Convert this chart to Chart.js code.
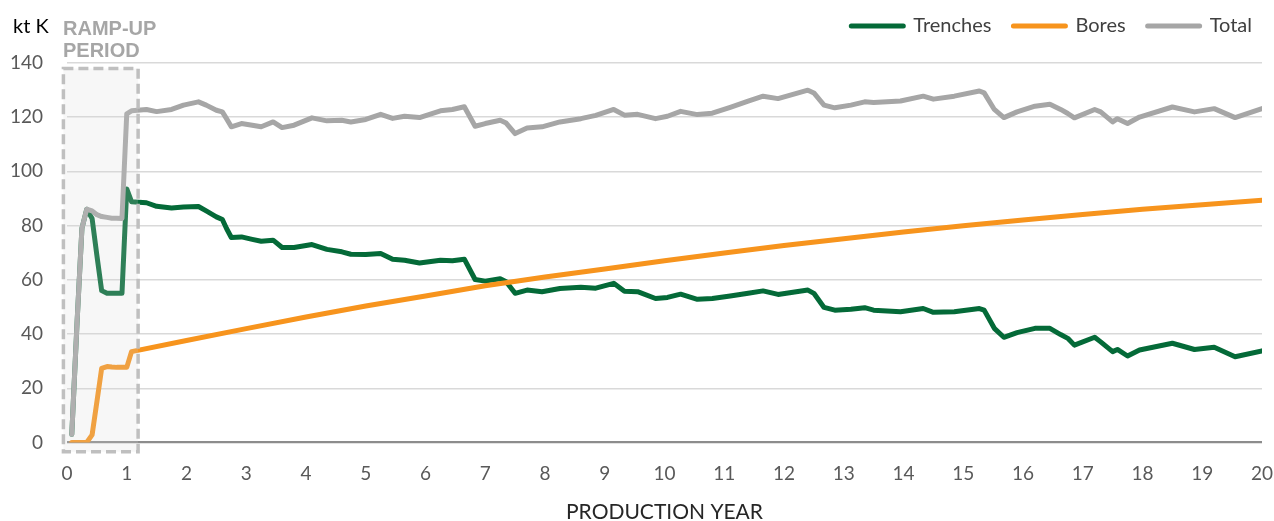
<!DOCTYPE html>
<html>
<head>
<meta charset="utf-8">
<script src="https://cdn.jsdelivr.net/npm/chart.js@4.4.1/dist/chart.umd.min.js"></script>
<style>
  html, body { margin: 0; padding: 0; background: #ffffff; }
  #wrap { width: 1274px; height: 521px; position: relative; }
</style>
</head>
<body>
<div id="wrap"><canvas id="production-chart"></canvas></div>
<script>
// production years (monthly through ramp-up, then at the curve's kinks)
var years = [
  0.08, 0.17, 0.25, 0.33, 0.42, 0.5, 0.58, 0.67, 0.75, 0.83, 0.92, 1.0, 1.08,
  1.33, 1.5, 1.75, 1.95, 2.2, 2.33, 2.5, 2.6, 2.67, 2.75, 2.92, 3.1, 3.25, 3.45, 3.6, 3.8,
  4.1, 4.35, 4.6, 4.75, 5.0, 5.25, 5.45, 5.65, 5.9, 6.25, 6.45, 6.65, 6.83, 7.0, 7.25, 7.35, 7.5, 7.7, 7.95,
  8.25, 8.6, 8.85, 9.15, 9.33, 9.55, 9.85, 10.05, 10.27, 10.55, 10.8, 11.1, 11.4, 11.65, 11.9,
  12.4, 12.5, 12.67, 12.85, 13.12, 13.35, 13.5, 13.95, 14.33, 14.5, 14.85, 15.27, 15.35, 15.52, 15.68, 15.9,
  16.2, 16.45, 16.63, 16.75, 16.86, 17.2, 17.3, 17.5, 17.58, 17.75, 17.95, 18.5, 18.87, 19.2, 19.55, 20.0
];

var trenches = [
  3, 45, 79, 86, 82.6, 69, 56, 55, 55, 55, 55, 93.5, 88.8,
  88.4, 87.1, 86.5, 86.8, 87.0, 85.4, 83.2, 82.2, 78.9, 75.6, 75.8, 74.9, 74.2, 74.6, 71.9, 71.9,
  73.0, 71.2, 70.3, 69.4, 69.3, 69.7, 67.6, 67.2, 66.2, 67.2, 67.0, 67.6, 60.1, 59.5, 60.4, 59.3, 55.0, 56.2, 55.6,
  56.8, 57.2, 56.9, 58.7, 55.8, 55.6, 53.1, 53.5, 54.7, 52.8, 53.1, 54.0, 55.0, 55.9, 54.6,
  56.2, 55.0, 49.8, 48.8, 49.1, 49.7, 48.8, 48.2, 49.4, 48.0, 48.2, 49.4, 48.8, 42.1, 38.8, 40.5,
  42.1, 42.1, 39.8, 38.4, 35.9, 38.8, 37.1, 33.5, 34.3, 31.9, 34.1, 36.6, 34.3, 35.1, 31.6, 33.8
];

var total = [
  3, 45, 79, 86, 85.4, 84, 83.3, 83, 82.7, 82.7, 82.6, 121.2, 122.3,
  122.8, 122.0, 122.8, 124.4, 125.6, 124.4, 122.5, 121.9, 119.4, 116.4, 117.6, 117.0, 116.4, 118.2, 116.1, 117.0,
  119.7, 118.6, 118.8, 118.2, 119.1, 121.0, 119.5, 120.3, 119.8, 122.3, 122.8, 123.8, 116.6, 117.6, 118.8, 117.8, 113.9, 116.0, 116.4,
  118.2, 119.4, 120.6, 122.8, 120.7, 121.0, 119.4, 120.3, 122.1, 120.9, 121.4, 123.6, 125.9, 127.7, 126.8,
  129.9, 128.9, 124.4, 123.4, 124.4, 125.6, 125.4, 125.9, 127.7, 126.6, 127.7, 129.6, 128.9, 122.8, 119.8, 121.9,
  124.0, 124.7, 122.8, 121.3, 119.7, 122.8, 121.9, 118.2, 119.4, 117.6, 120.0, 123.7, 121.9, 123.1, 119.8, 123.1
];

var boresYears = [0.08, 0.17, 0.25, 0.33, 0.42, 0.5, 0.58, 0.67, 0.75, 0.83, 0.92, 1.0, 1.08,
  2, 3, 4, 5, 6, 7, 8, 9, 10, 11, 12, 13, 14, 15, 16, 17, 18, 19, 20];
var bores = [0, 0, 0, 0, 2.8, 15, 27.3, 28, 27.8, 27.7, 27.7, 27.7, 33.5,
  37.6, 42, 46.3, 50.3, 54, 57.8, 61, 64, 67, 69.9, 72.6, 75.1, 77.6, 79.9, 82, 84.1, 86, 87.7, 89.3];

var yearTicks = { min: 0, max: 20, step: 1 };
var valueTicks = { min: 0, max: 140, step: 20 };

// ramp-up box, in axis units (years, kt K)
var rampBox = { x0: -0.06, x1: 1.19, y0: -3.4, y1: 137.9 };

var FONT = "Lato, 'Open Sans', sans-serif";
var LEGEND_HEIGHT = 68.8;

function pts(xs, ys) {
  return xs.map(function (x, i) { return { x: x, y: ys[i] }; });
}

// legend sits higher above the plot than Chart.js would place it
var legendHeightPlugin = {
  id: "legendHeight",
  afterInit: function (chart) {
    var legend = chart.legend;
    if (!legend || legend._tallFit) return;
    var fit = legend.fit;
    legend.fit = function () {
      fit.call(this);
      this.height = LEGEND_HEIGHT;
    };
    legend._tallFit = true;
  }
};

// year labels under the axis, taken from the x scale's own ticks,
// placed below the zero line of the value axis
var yearLabelsPlugin = {
  id: "yearLabels",
  afterDraw: function (chart) {
    var ctx = chart.ctx;
    var xs = chart.scales.x;
    var y = chart.scales.y.getPixelForValue(valueTicks.min) + 31.5;
    ctx.save();
    ctx.font = "19px " + FONT;
    ctx.fillStyle = "#595959";
    ctx.textAlign = "center";
    ctx.textBaseline = "middle";
    xs.ticks.forEach(function (t) {
      ctx.fillText(String(t.label), xs.getPixelForValue(t.value), y);
    });
    ctx.restore();
  }
};

var rampUpPlugin = {
  id: "rampUpBox",
  afterDatasetsDraw: function (chart) {
    var ctx = chart.ctx;
    var xs = chart.scales.x, ys = chart.scales.y;
    var l = xs.getPixelForValue(rampBox.x0), r = xs.getPixelForValue(rampBox.x1);
    var t = ys.getPixelForValue(rampBox.y1), b = ys.getPixelForValue(rampBox.y0);
    ctx.save();
    ctx.fillStyle = "rgba(214, 214, 214, 0.2)";
    ctx.fillRect(l, t, r - l, b - t);
    ctx.strokeStyle = "#bfbfbf";
    ctx.lineWidth = 3.5;
    ctx.setLineDash([10, 5]);
    ctx.strokeRect(l, t, r - l, b - t);
    ctx.restore();
  },
  afterDraw: function (chart) {
    var ctx = chart.ctx;
    ctx.save();
    ctx.textBaseline = "alphabetic";
    ctx.fillStyle = "#000000";
    ctx.font = "20px " + FONT;
    ctx.fillText("kt K", 13, 33);
    ctx.fillStyle = "#a6a6a6";
    ctx.font = "bold 20px 'Liberation Sans', Arial, sans-serif";
    ctx.fillText("RAMP-UP", 63, 35);
    ctx.fillText("PERIOD", 63, 57);
    ctx.restore();
  }
};

function makeSeries(label, data, color) {
  return {
    label: label,
    data: data,
    borderColor: color,
    backgroundColor: color,
    borderWidth: 5,
    pointRadius: 0,
    pointHoverRadius: 0,
    pointBorderWidth: 5,
    pointStyle: "line",
    borderJoinStyle: "round",
    borderCapStyle: "round",
    tension: 0,
    fill: false
  };
}

new Chart(document.getElementById("production-chart"), {
  type: "line",
  data: {
    datasets: [
      makeSeries("Total", pts(years, total), "#a6a6a6"),
      makeSeries("Bores", pts(boresYears, bores), "#f7941d"),
      makeSeries("Trenches", pts(years, trenches), "#046a38")
    ]
  },
  options: {
    responsive: true,
    maintainAspectRatio: false,
    animation: false,
    layout: { padding: { left: 0, right: 0, top: -6, bottom: 0 } },
    plugins: {
      tooltip: { enabled: false },
      legend: {
        position: "top",
        align: "end",
        labels: {
          usePointStyle: true,
          pointStyleWidth: 52,
          padding: 22,
          color: "#404040",
          font: { family: FONT, size: 20 },
          generateLabels: function (chart) {
            var items = Chart.defaults.plugins.legend.labels.generateLabels(chart);
            items.forEach(function (it) {
              it.lineCap = "round";
              it.lineWidth = 5;
              it.pointStyle = "line";
            });
            return items.sort(function (a, b) { return b.datasetIndex - a.datasetIndex; });
          }
        }
      }
    },
    scales: {
      x: {
        type: "linear",
        min: yearTicks.min,
        max: yearTicks.max,
        grid: { display: false, drawTicks: false },
        border: { display: false },
        ticks: {
          display: false,
          stepSize: yearTicks.step,
          autoSkip: false,
          maxRotation: 0
        },
        title: {
          display: true,
          text: "PRODUCTION YEAR",
          color: "#262626",
          font: { family: FONT, size: 21 },
          padding: { top: 56.8, bottom: -3.5 }
        },
        afterFit: function (s) {
          s.paddingLeft = 0;
          s.paddingRight = 12;
        }
      },
      y: {
        min: valueTicks.min,
        max: valueTicks.max,
        grid: {
          drawTicks: false,
          color: function (c) { return c.tick && c.tick.value === 0 ? "#8c8c8c" : "#d9d9d9"; },
          lineWidth: function (c) { return c.tick && c.tick.value === 0 ? 2.2 : 1.5; }
        },
        border: { display: false },
        ticks: {
          stepSize: valueTicks.step,
          padding: 24,
          color: "#595959",
          font: { family: FONT, size: 19 }
        },
        afterFit: function (s) {
          s.width = 67;
          s.paddingTop = 62.8;
          s.paddingBottom = 0;
        }
      }
    }
  },
  plugins: [legendHeightPlugin, rampUpPlugin, yearLabelsPlugin]
});
</script>
</body>
</html>
